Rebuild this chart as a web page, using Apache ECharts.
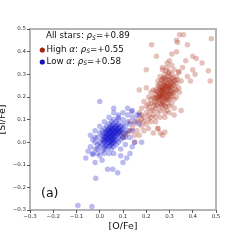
<!DOCTYPE html>
<html><head><meta charset="utf-8">
<script src="https://cdn.jsdelivr.net/npm/echarts@6/dist/echarts.min.js"></script>
<style>html,body{margin:0;padding:0;background:#fff}#c{width:240px;height:240px}</style>
</head><body><div id="c"></div>
<script>
const xTicks = [-0.3,-0.2,-0.1,0.0,0.1,0.2,0.3,0.4,0.5];
const yTicks = [-0.3,-0.2,-0.1,0.0,0.1,0.2,0.3,0.4,0.5];
const xName = '[O/Fe]';
const yName = '[Si/Fe]';
const rhoAll = '+0.89', rhoHigh = '+0.55', rhoLow = '+0.58';
const highAlpha = [
[0.28,0.22],[0.27,0.21],[0.29,0.23],[0.30,0.24],[0.26,0.20],[0.28,0.25],[0.31,0.22],[0.25,0.19],[0.27,0.24],[0.29,0.20],
[0.30,0.27],[0.26,0.23],[0.28,0.19],[0.32,0.25],[0.24,0.18],[0.27,0.26],[0.29,0.26],[0.31,0.28],[0.25,0.22],[0.28,0.28],
[0.30,0.21],[0.26,0.17],[0.27,0.18],[0.29,0.17],[0.33,0.26],[0.23,0.16],[0.28,0.16],[0.30,0.19],[0.32,0.22],[0.25,0.25],
[0.27,0.28],[0.29,0.29],[0.31,0.30],[0.26,0.26],[0.24,0.21],[0.28,0.24],[0.30,0.25],[0.27,0.22],[0.29,0.22],[0.26,0.21],
[0.31,0.24],[0.33,0.23],[0.25,0.16],[0.24,0.15],[0.27,0.15],[0.29,0.14],[0.30,0.16],[0.32,0.19],[0.34,0.24],[0.33,0.29],
[0.22,0.17],[0.23,0.20],[0.25,0.27],[0.26,0.29],[0.28,0.30],[0.30,0.31],[0.32,0.32],[0.27,0.32],[0.29,0.33],[0.31,0.34],
[0.26,0.14],[0.28,0.13],[0.31,0.17],[0.33,0.20],[0.35,0.27],[0.34,0.31],[0.22,0.14],[0.21,0.15],[0.23,0.12],[0.25,0.13],
[0.28,0.11],[0.30,0.13],[0.32,0.15],[0.27,0.20],[0.29,0.25],[0.26,0.24],[0.28,0.21],[0.30,0.23],[0.27,0.23],[0.29,0.21],
[0.25,0.20],[0.31,0.26],[0.28,0.26],[0.26,0.19],[0.30,0.29],[0.24,0.23],[0.32,0.27],[0.27,0.17],[0.29,0.19],[0.31,0.20],
[0.275,0.215],[0.285,0.235],[0.265,0.205],[0.295,0.245],[0.305,0.225],[0.255,0.185],[0.275,0.255],[0.285,0.195],[0.295,0.275],[0.265,0.235],
[0.245,0.195],[0.315,0.255],[0.305,0.265],[0.275,0.175],[0.255,0.215],[0.285,0.275],[0.265,0.165],[0.295,0.185],[0.325,0.235],[0.235,0.175],
[0.275,0.285],[0.305,0.205],[0.285,0.155],[0.255,0.245],[0.315,0.285],[0.265,0.275],[0.245,0.165],[0.295,0.305],[0.325,0.275],[0.285,0.315],
[0.275,0.195],[0.265,0.225],[0.295,0.215],[0.285,0.245],[0.305,0.245],[0.255,0.205],[0.275,0.235],[0.315,0.215],[0.235,0.195],[0.245,0.225],
[0.20,0.13],[0.19,0.11],[0.18,0.12],[0.21,0.10],[0.17,0.09],[0.16,0.10],[0.20,0.08],[0.22,0.09],[0.18,0.07],[0.15,0.08],
[0.14,0.06],[0.16,0.05],[0.19,0.05],[0.21,0.06],[0.13,0.05],[0.12,0.04],[0.15,0.03],[0.17,0.03],[0.15,0.00],[0.23,0.04],
[0.25,0.06],[0.26,0.04],[0.27,0.03],[0.24,0.09],[0.11,0.03],[0.10,0.02],[0.09,0.04],[0.20,0.16],[0.19,0.18],[0.21,0.20],
[0.18,0.15],[0.22,0.22],[0.20,0.24],[0.17,0.13],[0.13,0.09],[0.28,0.045],[0.36,0.475],[0.343,0.475],[0.48,0.457],[0.223,0.43],
[0.33,0.45],[0.335,0.44],[0.377,0.43],[0.33,0.40],[0.244,0.38],[0.31,0.39],[0.37,0.36],[0.40,0.38],[0.415,0.37],[0.44,0.35],
[0.467,0.315],[0.475,0.27],[0.20,0.32],[0.40,0.32],[0.41,0.30],[0.377,0.29],[0.39,0.27],[0.34,0.31],[0.356,0.33],[0.335,0.275],
[0.29,0.35],[0.30,0.36],[0.27,0.33],[0.343,0.22],[0.23,0.23],[0.17,0.23],[0.35,0.14],[0.32,0.12],[0.25,0.06],[0.22,0.11],
[0.21,0.12],[0.19,0.09],[0.23,0.14],[0.24,0.11],[0.18,0.10],[0.26,0.11],[0.22,0.19],[0.21,0.17]
];
const lowAlpha = [
[0.05,0.03],[0.04,0.02],[0.06,0.04],[0.03,0.01],[0.07,0.05],[0.05,0.05],[0.04,0.04],[0.06,0.02],[0.02,0.00],[0.08,0.06],
[0.05,0.01],[0.03,0.03],[0.07,0.03],[0.06,0.06],[0.04,0.00],[0.01,0.01],[0.09,0.05],[0.05,0.07],[0.03,-0.01],[0.07,0.07],
[0.06,0.00],[0.02,0.02],[0.08,0.04],[0.04,0.06],[0.05,-0.01],[0.07,0.01],[0.03,0.05],[0.09,0.07],[0.01,-0.01],[0.06,0.08],
[0.04,-0.02],[0.08,0.02],[0.02,0.04],[0.10,0.06],[0.05,0.04],[0.06,0.03],[0.04,0.03],[0.05,0.02],[0.07,0.04],[0.03,0.02],
[0.00,0.00],[0.01,0.03],[0.00,-0.02],[0.02,-0.02],[0.08,0.08],[0.10,0.08],[0.09,0.03],[0.11,0.07],[0.07,0.09],[0.05,0.09],
[0.03,0.07],[0.06,0.10],[0.08,0.10],[0.10,0.10],[0.11,0.04],[0.09,0.01],[0.07,-0.01],[0.05,-0.03],[0.03,-0.03],[0.01,-0.04],
[-0.01,-0.01],[-0.01,0.02],[0.00,0.04],[0.02,0.06],[0.04,0.08],[0.12,0.09],[0.12,0.05],[0.10,0.02],[0.08,0.00],[0.06,-0.02],
[0.04,0.05],[0.06,0.05],[0.05,0.06],[0.07,0.06],[0.03,0.04],[0.04,0.01],[0.06,0.01],[0.02,0.01],[0.08,0.05],[0.05,0.00],
[0.045,0.025],[0.055,0.035],[0.035,0.015],[0.065,0.045],[0.045,0.045],[0.055,0.015],[0.025,0.005],[0.075,0.055],[0.035,0.035],[0.065,0.025],
[0.045,0.005],[0.055,0.055],[0.025,0.025],[0.075,0.035],[0.035,-0.005],[0.065,0.065],[0.015,0.005],[0.085,0.045],[0.045,0.065],[0.055,-0.005],
[0.035,0.055],[0.065,0.005],[0.025,-0.015],[0.085,0.065],[0.015,0.025],[0.075,0.075],[0.045,-0.015],[0.095,0.055],[0.055,0.075],[0.025,0.045],
[-0.02,-0.03],[-0.03,-0.05],[-0.02,0.00],[-0.04,-0.02],[-0.03,0.01],[-0.01,-0.05],[0.00,-0.06],[0.02,-0.05],[0.04,-0.05],[0.06,-0.05],
[0.09,-0.03],[0.11,-0.01],[0.13,0.02],[0.14,0.05],[0.13,0.08],[0.14,0.11],[0.12,0.12],[0.10,0.13],[0.08,0.12],[0.06,0.13],
[0.04,0.11],[0.02,0.09],[0.00,0.07],[-0.02,0.05],[-0.04,0.03],[0.15,0.09],[0.16,0.12],[0.14,0.14],[0.12,0.15],
[0.00,0.18],[0.06,0.15],[0.08,0.11],[-0.05,-0.04],[-0.03,-0.055],[-0.02,-0.09],[-0.017,-0.16],[0.034,-0.12],[0.056,-0.12],[0.077,-0.135],
[0.116,-0.07],[-0.094,-0.28],[-0.034,-0.285],[0.13,-0.05],[0.10,-0.09],[0.15,0.00],[0.17,0.08],[-0.06,-0.07],[0.01,-0.08],[0.09,-0.06],
[0.137,0.134],[0.17,0.12],[0.18,0.00],[0.14,-0.02],[-0.01,-0.03],[0.01,0.05],[0.11,0.02],[0.10,0.04],[0.02,-0.03],[-0.02,0.02]
];
const fmt = v => { const r = Math.round(v*10)/10; return (r < 0 ? '\u2212' : '') + Math.abs(r).toFixed(1); };
const chart = echarts.init(document.getElementById('c'), null, {renderer:'canvas'});
const font = 'DejaVu Sans';
const axisCommon = {
  min: -0.3, max: 0.5, interval: 0.1,
  axisLine: {show: false, onZero: false},
  axisTick: {show: true, inside: false, length: 3, lineStyle: {color: '#333', width: 0.8}},
  splitLine: {show: false},
  nameLocation: 'middle',
  nameMoveOverlap: false,
  nameTextStyle: {fontFamily: font, fontSize: 9.5, color: '#111'}
};
const lblFmt = ticks => v => { const i = ticks.findIndex(t => Math.abs(t - v) < 1e-6); return i >= 0 ? fmt(ticks[i]) : ''; };
const richStyle = {a: {fontFamily: font, fontSize: 8.7, fill: '#111'}, i: {fontFamily: font, fontSize: 8.7, fontStyle: 'italic', fill: '#111'},
  s: {fontFamily: font, fontSize: 6, fontStyle: 'italic', fill: '#111', verticalAlign: 'bottom', padding: [4,0,0,0]}};
chart.setOption({
  animation: false,
  grid: {left: 30, right: 24, top: 29, bottom: 30, show: true, borderColor: '#b5b5b5', borderWidth: 2, outerBoundsMode: 'none', containLabel: false},
  xAxis: Object.assign({}, axisCommon, {type: 'value', position: 'bottom', name: xName, nameGap: 12,
    axisLabel: {fontFamily: font, fontSize: 5.5, color: '#333', margin: 4, formatter: lblFmt(xTicks)}}),
  yAxis: Object.assign({}, axisCommon, {type: 'value', position: 'left', name: yName, nameGap: 22, nameRotate: 90,
    axisLabel: {fontFamily: font, fontSize: 5.5, color: '#333', margin: 4, formatter: lblFmt(yTicks)}}),
  series: [
    {type: 'scatter', name: 'High', data: highAlpha, symbolSize: 5.5,
     itemStyle: {color: 'rgb(165,35,15)', opacity: 0.28}},
    {type: 'scatter', name: 'Low', data: lowAlpha, symbolSize: 5.5,
     itemStyle: {color: 'rgb(10,10,200)', opacity: 0.28}}
  ],
  graphic: [
    {type: 'text', left: 46, top: 31.5, style: {text: '{a|All stars: }{i|\u03c1}{s|S}{a|=' + rhoAll + '}', rich: richStyle}},
    {type: 'circle', shape: {cx: 42.3, cy: 50, r: 2.6}, style: {fill: 'rgb(165,35,15)'}},
    {type: 'text', left: 46.5, top: 45, style: {text: '{a|High }{i|\u03b1}{a|: }{i|\u03c1}{s|S}{a|=' + rhoHigh + '}', rich: richStyle}},
    {type: 'circle', shape: {cx: 42.3, cy: 62, r: 2.6}, style: {fill: 'rgb(20,20,185)'}},
    {type: 'text', left: 46.5, top: 57, style: {text: '{a|Low }{i|\u03b1}{a|: }{i|\u03c1}{s|S}{a|=' + rhoLow + '}', rich: richStyle}},
    {type: 'text', left: 41, top: 187, style: {text: '(a)', fontFamily: font, fontSize: 12.5, fill: '#111'}}
  ]
});
</script></body></html>
